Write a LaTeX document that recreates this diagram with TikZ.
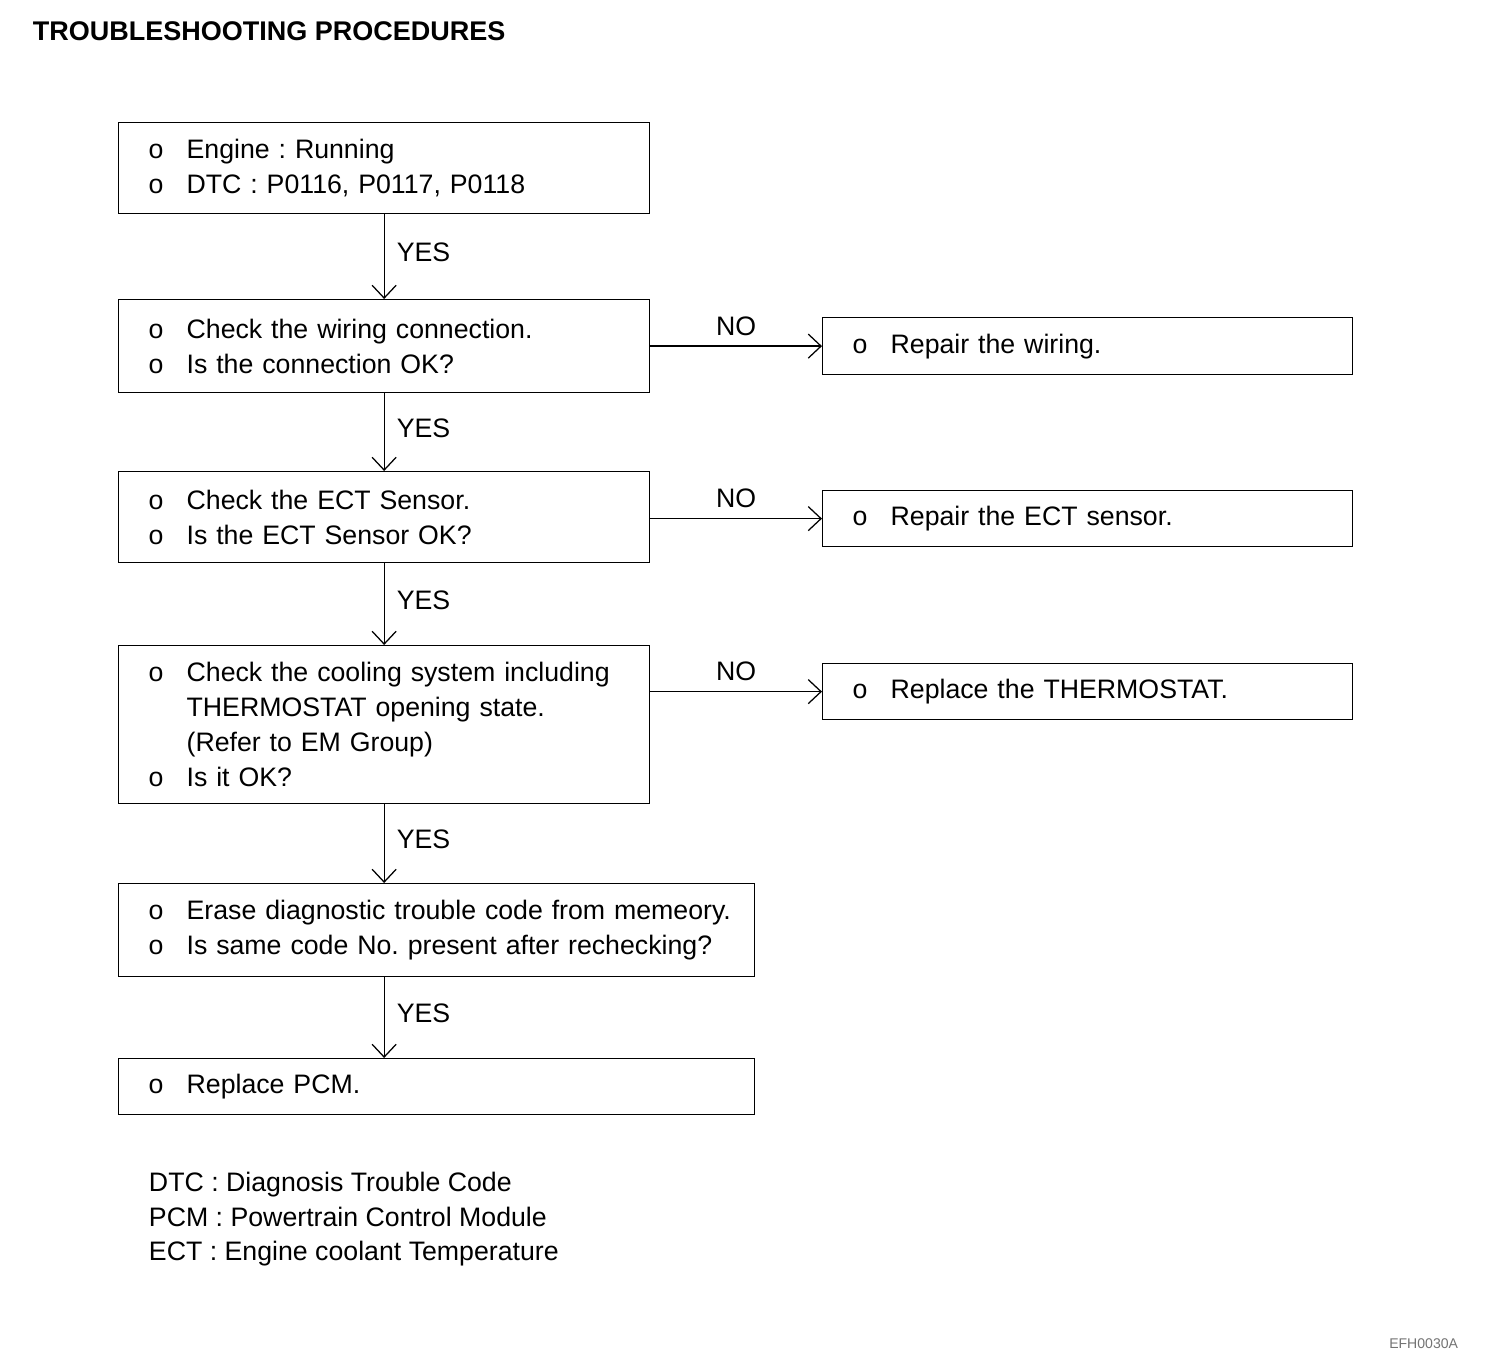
\documentclass[tikz,border=0pt]{standalone}
\usepackage{fontspec}
\setmainfont{Liberation Sans}
\usetikzlibrary{arrows.meta,positioning}
\frenchspacing
\newcommand{\bul}{\hspace*{0.75cm}\makebox[0.95cm][l]{o}}
\newcommand{\ind}{\hspace*{1.7cm}}

\begin{document}
\begin{tikzpicture}[font=\fontsize{19}{24.9}\selectfont, >={Straight Barb[length=0.32cm,width=0.6cm]},
    box/.style={draw, line width=0.9pt, anchor=north west, align=left, inner xsep=0pt, inner ysep=0pt},
    yes/.style={right=0.3cm, inner sep=0pt, pos=0.45},
    no/.style={above=0.25cm, inner sep=0pt}]
    \useasboundingbox (0,0) rectangle (37.6,-33.9);
    \node[anchor=base west, font=\fontsize{19.2}{24.9}\selectfont\bfseries] (title) at (0.7,-1.025) {TROUBLESHOOTING PROCEDURES};
    % main column
    \node[box, text width=13.275cm, minimum height=2.275cm] (q1) at (2.95,-3.05)
      {\bul Engine : Running\\ \bul DTC : P0116, P0117, P0118};
    \node[box, text width=13.275cm, minimum height=2.325cm] (q2) at (2.95,-7.475)
      {\bul Check the wiring connection.\\ \bul Is the connection OK?};
    \node[box, text width=13.275cm, minimum height=2.275cm] (q3) at (2.95,-11.775)
      {\bul Check the ECT Sensor.\\ \bul Is the ECT Sensor OK?};
    \node[box, text width=13.275cm, minimum height=3.95cm] (q4) at (2.95,-16.125)
      {\bul Check the cooling system including\\ \ind THERMOSTAT opening state.\\ \ind (Refer to EM Group)\\ \bul Is it OK?};
    \node[box, text width=15.9cm, minimum height=2.325cm] (q5) at (2.95,-22.075)
      {\bul Erase diagnostic trouble code from memeory.\\ \bul Is same code No. present after rechecking?};
    \node[box, text width=15.9cm, minimum height=1.4cm] (q6) at (2.95,-26.45)
      {\bul Replace PCM.};
    % repair column
    \node[box, text width=13.25cm, minimum height=1.425cm] (r1) at (20.55,-7.925) {\bul Repair the wiring.};
    \node[box, text width=13.25cm, minimum height=1.4cm] (r2) at (20.55,-12.25) {\bul Repair the ECT sensor.};
    \node[box, text width=13.25cm, minimum height=1.4cm] (r3) at (20.55,-16.575) {\bul Replace the THERMOSTAT.};
    \draw[->, line width=0.9pt] (q1.south) -- node[yes]{YES} (q2.north);
    \draw[->, line width=0.9pt] (q2.south) -- node[yes]{YES} (q3.north);
    \draw[->, line width=0.9pt] (q3.south) -- node[yes]{YES} (q4.north);
    \draw[->, line width=0.9pt] (q4.south) -- node[yes]{YES} (q4.south |- q5.north);
    \draw[->, line width=0.9pt] (q5.south -| q4.south) -- node[yes]{YES} (q6.north -| q4.south);
    \draw[->, line width=0.9pt] (q2.east |- r1.west) -- node[no]{NO} (r1.west);
    \draw[->, line width=0.9pt] (q3.east |- r2.west) -- node[no]{NO} (r2.west);
    \draw[->, line width=0.9pt] (q4.east |- r3.west) -- node[no]{NO} (r3.west);
    \foreach \y/\t [count=\i] in {-29.775/{DTC : Diagnosis Trouble Code}, -30.65/{PCM : Powertrain Control Module}, -31.5/{ECT : Engine coolant Temperature}}
      \node[anchor=base west] (leg\i) at (3.6,\y) {\t};
    \node[anchor=base east, font=\fontsize{10}{12}\selectfont, text=black!55] (code) at (36.575,-33.7) {EFH0030A};
\end{tikzpicture}
\end{document}
